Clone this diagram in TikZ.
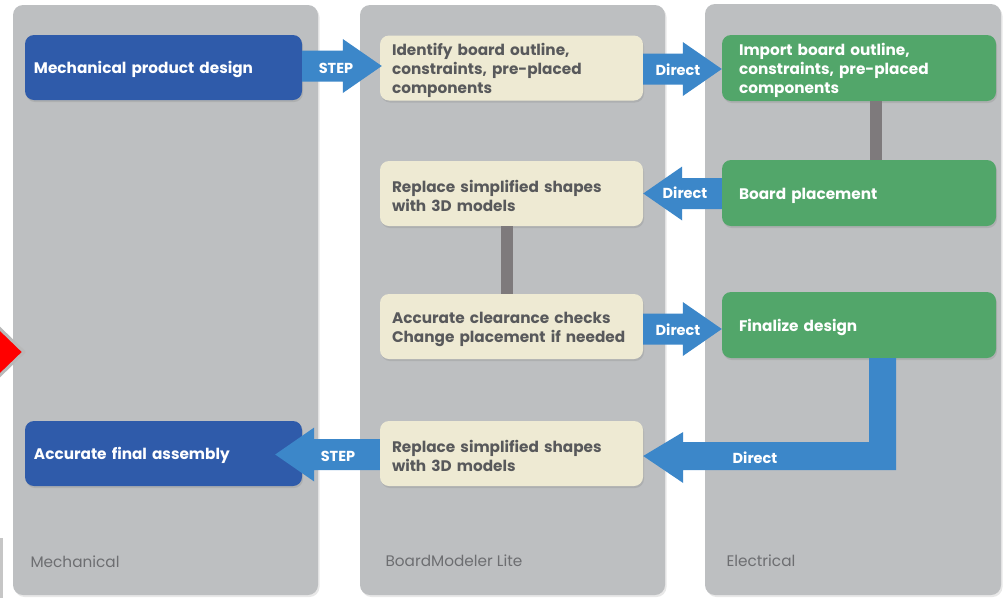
\documentclass[tikz,border=0pt]{standalone}
\usepackage{fontspec}
\setmainfont{Poppins}
\usetikzlibrary{calc,shadows}
\definecolor{colgray}{HTML}{BDBFC1}
\definecolor{mblue}{HTML}{2F5BAA}
\definecolor{ablue}{HTML}{3C87C9}
\definecolor{egreen}{HTML}{52A66A}
\definecolor{cream}{HTML}{EEEAD3}
\definecolor{ctext}{HTML}{58595B}
\definecolor{lbl}{HTML}{6D6E71}
\definecolor{conngray}{HTML}{7E7A7C}
\newcommand\sh{15.5pt}
\newcommand\hh{27pt}
\newcommand\hl{39pt}
\newcommand\up{\rule{0pt}{17pt}}
% right-pointing block arrow: #1 start, #2 tip
\newcommand\arrR[2]{\fill[arr] let \p1=#1, \p2=#2 in
  (\x1,\y2+\sh) -- (\x2-\hl,\y2+\sh) -- (\x2-\hl,\y2+\hh) -- (\x2,\y2) --
  (\x2-\hl,\y2-\hh) -- (\x2-\hl,\y2-\sh) -- (\x1,\y2-\sh) -- cycle;}
% left-pointing block arrow: #1 start, #2 tip
\newcommand\arrL[2]{\fill[arr] let \p1=#1, \p2=#2 in
  (\x1,\y2+\sh) -- (\x2+\hl,\y2+\sh) -- (\x2+\hl,\y2+\hh) -- (\x2,\y2) --
  (\x2+\hl,\y2-\hh) -- (\x2+\hl,\y2-\sh) -- (\x1,\y2-\sh) -- cycle;}
\begin{document}
\begin{tikzpicture}[x=1pt,y=-1pt,
  column/.style={fill=colgray, rounded corners=10pt,
    drop shadow={shadow xshift=1.5pt, shadow yshift=-2pt, opacity=0.18}},
  collabel/.style={anchor=west, text=lbl, font=\fontsize{15.3}{17}\selectfont},
  box/.style={rounded corners=9pt, align=left, inner ysep=0pt,
    font=\bfseries\fontsize{15.3}{19}\selectfont,
    drop shadow={shadow xshift=1pt, shadow yshift=-2pt, opacity=0.25}},
  mbox/.style={box, fill=mblue, text=white, inner xsep=9pt, text width=259pt, minimum height=65pt},
  cbox/.style={box, fill=cream, text=ctext, inner xsep=12pt, text width=239pt, minimum height=65pt},
  ebox/.style={box, fill=egreen, text=white, inner xsep=17pt, text width=240pt, minimum height=66pt},
  arr/.style={fill=ablue},
  alabel/.style={text=white, font=\bfseries\fontsize{14.5}{16}\selectfont, inner sep=0pt},
  conn/.style={draw=conngray, line width=12pt}
]
\useasboundingbox (0,0) rectangle (1004,598);
\fill[white] (0,0) rectangle (1004,598);

% columns
\fill[column] (13,5) rectangle (318,595);
\fill[column] (360,5) rectangle (665,595);
\fill[column] (705,4) rectangle (1001,595);
\node[collabel] (lm) at (27,562) {Mechanical};
\node[collabel] (lb) at (382,561) {BoardModeler Lite};
\node[collabel] (le) at (723,561) {Electrical};

% left-edge fragments
\fill[gray!45] (0,538) rectangle (3,598);
\filldraw[fill=red, draw=gray!55, line width=3pt, line join=round] (-6,323) -- (24,352) -- (-6,381) -- cycle;

% mechanical boxes
\node[mbox] (mech) at (163.5,67.5) {\up Mechanical product design};
\node[mbox] (final) at (163.5,453.5) {\up Accurate final assembly};

% BoardModeler boxes
\node[cbox] (ident) at (511.5,68) {\up Identify board outline,\\constraints, pre-placed\\components};
\node[cbox] (repl1) at (511.5,193.5) {\up Replace simplified shapes\\with 3D models};
\node[cbox] (check) at (511.5,326.5) {\up Accurate clearance checks\\Change placement if needed};
\node[cbox] (repl2) at (511.5,453.5) {\up Replace simplified shapes\\with 3D models};

% electrical boxes
\node[ebox] (import) at (859,68) {\up Import board outline,\\constraints, pre-placed\\components};
\node[ebox] (board) at (859,193) {\up Board placement};
\node[ebox] (fin) at (859,325) {\up Finalize design};

% gray connectors
\draw[conn] ($(import.south)+(17,0)$) -- ($(board.north)+(17,0)$);
\draw[conn] ($(repl1.south)+(-4.5,0)$) -- ($(check.north)+(-4.5,0)$);

% block arrows
\arrR{(mech.east)}{($(ident.west)+(2,-2)$)}
\node[alabel] (s1) at (336,68) {STEP};
\arrR{(ident.east)}{($(import.west)+(0,1)$)}
\node[alabel] (d1) at (678,70) {Direct};
\arrL{(board.west)}{(repl1.east)}
\node[alabel] (d2) at (685,193) {Direct};
\arrR{(check.east)}{($(fin.west)+(0,4)$)}
\node[alabel] (d3) at (678,330) {Direct};
\arrL{(repl2.west)}{($(final.east)+(-27,1)$)}
\node[alabel] (s2) at (338,456) {STEP};

% bent arrow from Finalize design to lower Replace box
\coordinate (bend) at (882.5,456);
\fill[arr] let \p1=(bend |- fin.south), \p2=(bend), \p3=(repl2.east |- bend) in
  (\x1-13.5pt,\y1) -- (\x1+13.5pt,\y1) -- (\x1+13.5pt,\y2-14pt) --
  (\x3+40pt,\y2-14pt) -- (\x3+40pt,\y2-27pt) -- (\x3,\y2) --
  (\x3+40pt,\y2+24pt) -- (\x3+40pt,\y2+14pt) -- (\x1-13.5pt,\y2+14pt) -- cycle;
\node[alabel] (d4) at (755,458) {Direct};
\end{tikzpicture}
\end{document}
